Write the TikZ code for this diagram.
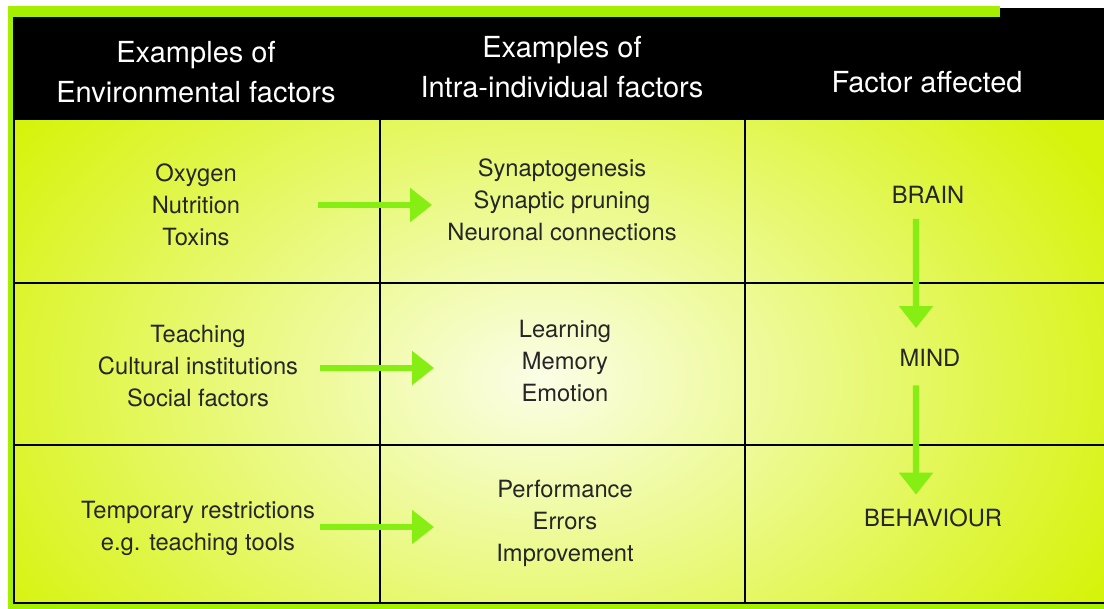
\documentclass[tikz,border=0pt]{standalone}
\usepackage{fontspec}
\setmainfont{TeX Gyre Heros}
\usetikzlibrary{arrows.meta}

\definecolor{cellyellow}{RGB}{214,243,10}
\definecolor{arrowgreen}{RGB}{135,238,20}
\definecolor{edgegreen}{RGB}{165,240,0}

\tikzset{
  head/.style={text=white, align=center, font=\fontsize{16.5}{22.5}\selectfont},
  cell/.style={text=black!85, align=center, font=\fontsize{13.5}{18.2}\selectfont},
  level/.style={cell, inner sep=0pt},
  flow/.style={arrowgreen, line width=3.5pt, -{Triangle[width=0.66cm,length=0.44cm]}},
  grid/.style={black, line width=1.2pt}
}

\begin{document}
\begin{tikzpicture}[x=0.02cm,y=-0.02cm]
    \useasboundingbox (0,0) rectangle (1104,608);

    % Borde verde (arriba, izquierda y abajo)
    \fill[edgegreen] (8,6) rectangle (1000,20);
    \fill[edgegreen] (8,6) rectangle (16,608);
    \fill[edgegreen] (8,600) rectangle (1200,620);

    % Celdas con brillo central
    \begin{scope}
        \clip (14,118) rectangle (1200,603);
        \fill[cellyellow] (14,118) rectangle (1200,603);
        \shade[inner color=white!90!cellyellow, outer color=cellyellow] (540,380) ellipse (12.8cm and 8.8cm);
    \end{scope}

    % Cabecera
    \fill[black] (14,17) rectangle (1200,120);
    \fill[black] (1000,8) rectangle (1200,17);

    % Rejilla
    \draw[grid] (14,17) -- (14,603) -- (1200,603);
    \draw[grid] (380,120) -- (380,603);
    \draw[grid] (745,120) -- (745,603);
    \draw[grid] (14,283) -- (1200,283);
    \draw[grid] (14,445) -- (1200,445);

    % Titulos de columna
    \node[head] (envhead) at (196,72) {Examples of\\Environmental factors};
    \node[head] (intrahead) at (562,67) {Examples of\\Intra-individual factors};
    \node[head] (facthead) at (927,82) {Factor affected};

    % Factores ambientales
    \node[cell] (env1) at (196,205) {Oxygen\\Nutrition\\Toxins};
    \node[cell] (env2) at (198,366) {Teaching\\Cultural institutions\\Social factors};
    \node[cell] (env3) at (198,528) {Temporary restrictions\\e.g. teaching tools};

    % Factores intraindividuales
    \node[cell] (intra1) at (562,200) {Synaptogenesis\\Synaptic pruning\\Neuronal connections};
    \node[cell] (intra2) at (565,361) {Learning\\Memory\\Emotion};
    \node[cell] (intra3) at (565,523) {Performance\\Errors\\Improvement};

    % Niveles afectados
    \node[level] (brain) at (928,195) {BRAIN};
    \node[level] (mind) at (930,358) {MIND};
    \node[level] (behaviour) at (933,518) {BEHAVIOUR};

    % Flechas entre columnas
    \coordinate (from1) at (318,205);
    \coordinate (to1) at (432,205);
    \coordinate (from2) at (320,368);
    \coordinate (to2) at (434,368);
    \coordinate (from3) at (320,527);
    \coordinate (to3) at (434,527);
    \draw[flow] (from1) -- (to1);
    \draw[flow] (from2) -- (to2);
    \draw[flow] (from3) -- (to3);

    % Flechas verticales
    \draw[flow, shorten <=0.3cm, shorten >=0.42cm] ([xshift=-0.24cm]brain.south) -- ([xshift=-0.28cm]mind.north);
    \draw[flow, shorten <=0.37cm, shorten >=0.28cm] ([xshift=-0.28cm]mind.south) -- ([xshift=-0.34cm]behaviour.north);
\end{tikzpicture}
\end{document}
